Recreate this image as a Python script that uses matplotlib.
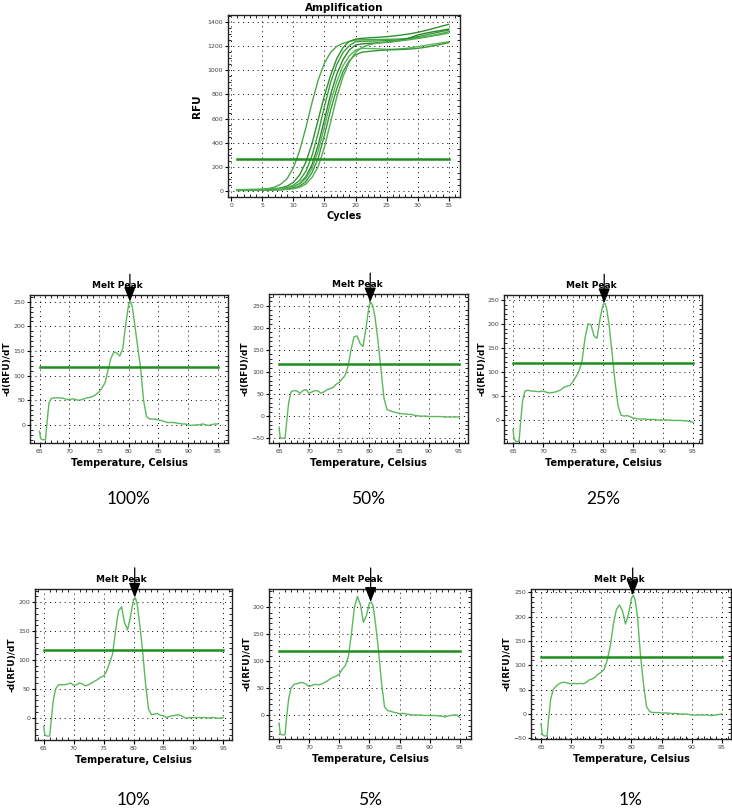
import matplotlib
matplotlib.use("Agg")
import matplotlib.pyplot as plt
from matplotlib.ticker import MultipleLocator

# ---- amplification data (RFU per cycle) ----
cycles = list(range(1, 36))
amp_curves = [
    [5, 6, 7, 9, 12, 18, 30, 55, 100, 190, 330, 520, 730, 920, 1060, 1150, 1200, 1225, 1240, 1252,
     1254, 1255, 1256, 1257, 1258, 1259, 1261, 1264, 1267, 1271, 1278, 1287, 1297, 1309, 1321],
    [8, 8, 9, 10, 11, 13, 17, 24, 38, 70, 130, 235, 390, 590, 790, 960, 1100, 1190, 1240, 1260,
     1266, 1270, 1273, 1276, 1280, 1285, 1291, 1298, 1306, 1316, 1328, 1341, 1355, 1369, 1382],
    [3, 4, 4, 5, 6, 8, 11, 16, 26, 45, 85, 160, 290, 480, 700, 900, 1050, 1150, 1205, 1238,
     1241, 1243, 1244, 1245, 1247, 1250, 1254, 1260, 1269, 1280, 1291, 1302, 1313, 1324, 1335],
    [6, 6, 7, 7, 8, 9, 11, 14, 20, 32, 60, 115, 215, 380, 590, 800, 970, 1090, 1170, 1210,
     1220, 1224, 1227, 1230, 1233, 1238, 1246, 1258, 1275, 1294, 1306, 1316, 1325, 1334, 1343],
    [10, 10, 11, 11, 12, 13, 15, 18, 23, 33, 55, 100, 185, 330, 530, 740, 910, 1040, 1120, 1170,
     1183, 1182, 1180, 1178, 1175, 1176, 1178, 1182, 1189, 1197, 1205, 1214, 1222, 1230, 1238],
    [2, 2, 3, 3, 4, 5, 6, 8, 12, 20, 38, 75, 150, 270, 460, 670, 850, 990, 1080, 1130,
     1150, 1157, 1162, 1166, 1169, 1171, 1173, 1175, 1178, 1183, 1190, 1199, 1209, 1219, 1230],
    [4, 4, 5, 5, 6, 6, 7, 9, 12, 17, 28, 55, 110, 200, 360, 570, 780, 950, 1070, 1150,
     1190, 1210, 1222, 1230, 1235, 1240, 1245, 1250, 1257, 1265, 1273, 1282, 1291, 1300, 1310],
]
amp_threshold = 263

# ---- melt curve data ----
temps = [65, 65.2, 65.5, 66, 66.3, 66.6,
         67, 67.5, 68, 68.5, 69, 69.5, 70, 70.5, 71, 71.5, 72, 72.5, 73, 73.5, 74, 74.5,
         75, 75.5, 76, 76.5, 77, 77.5, 78, 78.5, 79, 79.5, 80,
         80.3, 80.6,
         81, 81.5, 82, 82.5, 83, 83.5, 84, 84.5, 85, 85.5, 86, 86.5, 87, 87.5, 88, 88.5,
         89, 89.5, 90, 90.5, 91, 91.5, 92, 92.5, 93, 93.5, 94, 94.5, 95]

melt_100 = [-13, -28, -30, -30, 10, 45,
            54, 55, 55, 55, 54, 52, 51, 53, 52, 50, 51, 53, 55, 56, 58, 62, 67, 75, 85, 110,
            135, 148, 146, 140, 155, 205, 245,
            250, 240,
            205, 160, 115, 50, 17, 12, 12, 12, 10, 9, 7, 5, 5, 5, 4, 3, 2, 2, 0, -1, 0, 0, 1,
            2, 0, -1, 1, 2, 2]
melt_50 = [-25, -50, -50, -50, -10, 30,
           55, 58, 57, 52, 58, 60, 52, 55, 58, 57, 52, 55, 60, 62, 65, 72, 76, 84, 92, 113,
           150, 180, 182, 165, 158, 200, 250,
           258, 252,
           225, 170, 105, 40, 15, 12, 10, 8, 7, 5, 5, 4, 4, 2, 1, 0, 0, 0, -1, -1, -1, -1, -1,
           -2, -2, -2, -2, -2, -2]
melt_25 = [-20, -40, -45, -45, 0, 40,
           60, 62, 60, 60, 59, 59, 60, 58, 56, 57, 58, 60, 63, 68, 70, 72, 80, 90, 102, 122,
           170, 200, 198, 175, 170, 210, 240,
           243, 232,
           200, 140, 80, 30, 10, 8, 9, 7, 4, 3, 2, 2, 2, 1, 1, 1, 0, 0, 0, 0, 0, -1, -1,
           -1, -1, -2, -2, -3, -5]
melt_10 = [-15, -30, -32, -32, 0, 30,
           50, 57, 57, 57, 58, 60, 56, 57, 60, 58, 55, 57, 60, 63, 66, 70, 72, 80, 95, 110,
           150, 185, 192, 165, 152, 175, 205,
           208, 198,
           165, 118, 60, 15, 5, 6, 7, 4, 3, 0, 2, 3, 4, 5, 3, 0, -1, 0, 0, 0, 0, 0, 0,
           -1, 0, 0, -1, -1, 0]
melt_5 = [-15, -35, -37, -37, 0, 30,
          50, 57, 58, 60, 60, 57, 53, 55, 57, 56, 57, 60, 63, 67, 70, 72, 76, 85, 92, 108,
          150, 200, 220, 205, 172, 185, 208,
          210, 203,
          170, 120, 60, 15, 8, 7, 5, 4, 2, 3, 2, 1, 0, 0, 0, 0, -1, -1, -1, -1, -1, -2, -2,
          -4, -2, -1, 0, 0, -5]
melt_1 = [-20, -42, -45, -45, -5, 30,
          50, 57, 62, 65, 65, 63, 62, 63, 62, 63, 62, 65, 70, 72, 76, 82, 86, 92, 112, 140,
          185, 215, 224, 212, 185, 205, 238,
          244, 235,
          200, 120, 60, 15, 5, 3, 3, 3, 2, 2, 2, 1, 1, 1, 0, 0, 0, -1, -2, -2, -2, -2, -2,
          -2, -3, -3, -2, -1, 0]

melt_labels = ["100%", "50%", "25%", "10%", "5%", "1%"]
melt_peaks = [250, 258, 243, 208, 210, 244]
melt_threshold = 118
peak_temp = 80.2

W, H = 732, 808
fig = plt.figure(figsize=(W / 100, H / 100), dpi=100)
fig.set_facecolor("white")

curve_color = "#5cb85c"
thresh_color = "#1f8f1f"
amp_colors = ["#4aa84a", "#2f8f2f", "#3c9c3c", "#2a862a", "#5bb55b", "#3a963a", "#4fae4f"]


def px_axes(left, top, right, bottom):
    # axes from pixel box
    return fig.add_axes([left / W, 1 - bottom / H, (right - left) / W, (bottom - top) / H])


def style_axes(ax, xminor, yminor):
    ax.grid(True, which="major", color="black", linestyle=(0, (1, 4)), linewidth=0.7)
    ax.xaxis.set_minor_locator(MultipleLocator(xminor))
    ax.yaxis.set_minor_locator(MultipleLocator(yminor))
    ax.tick_params(which="major", direction="out", length=3, width=0.8,
                   labelsize=4.5, labelcolor="#444444", pad=1.5)
    ax.tick_params(axis="y", which="major", length=2.5, pad=1)
    ax.tick_params(which="minor", direction="in", length=2, width=0.6,
                   top=True, right=True)
    for s in ax.spines.values():
        s.set_linewidth(1.0)
        s.set_color("#222222")


# ---- amplification plot ----
ax = px_axes(228, 15, 460, 197)
for vals, col in zip(amp_curves, amp_colors):
    ax.plot(cycles, vals, color=col, linewidth=1.0)
ax.plot([1, 35], [amp_threshold, amp_threshold], color=thresh_color, linewidth=1.8)
ax.set_xlim(-0.5, 36.8)
ax.set_ylim(-52, 1460)
ax.set_xticks(range(0, 36, 5))
ax.set_yticks(range(0, 1401, 200))
style_axes(ax, 1, 50)
ax.set_title("Amplification", fontsize=7.5, fontweight="bold", pad=3)
ax.set_xlabel("Cycles", fontsize=7, fontweight="bold", labelpad=2)
ax.set_ylabel("RFU", fontsize=7.5, fontweight="bold", labelpad=4)

# ---- melt peak plots ----
melt_data = [melt_100, melt_50, melt_25, melt_10, melt_5, melt_1]
boxes = [(30, 295, 228, 443), (269, 294, 468, 443), (504, 295, 702, 443),
         (35, 589, 232, 740), (269, 589, 471, 739), (531, 589, 731, 739)]
xlims = [(63.4, 96.7), (63.33, 96.5), (63.5, 96.5), (63.55, 96.45), (63.34, 96.84), (63.34, 96.5)]
ylims = [(-36.6, 263.7), (-61, 277), (-48, 260), (-38.9, 223), (-44.7, 234), (-51.4, 256.8)]
yticks = [range(0, 251, 50), range(-50, 251, 50), range(0, 251, 50),
          range(0, 201, 50), range(0, 201, 50), range(-50, 251, 50)]
label_y = [499, 499, 499, 800, 800, 800]

for i, vals in enumerate(melt_data):
    ax = px_axes(*boxes[i])
    ax.plot(temps, vals, color=curve_color, linewidth=1.0)
    ax.plot([65, 95], [melt_threshold, melt_threshold], color=thresh_color, linewidth=1.8)
    ax.set_xlim(*xlims[i])
    ax.set_ylim(*ylims[i])
    ax.set_xticks(range(65, 96, 5))
    ax.set_yticks(list(yticks[i]))
    style_axes(ax, 1, 10)
    ax.set_xlabel("Temperature, Celsius", fontsize=7, fontweight="bold", labelpad=3)
    ax.set_ylabel("-d(RFU)/dT", fontsize=6.5, fontweight="bold", labelpad=1)

    # arrow pointing down to the melt peak
    ax.annotate("", xy=(peak_temp, melt_peaks[i]), xycoords="data",
                xytext=(peak_temp, 1.14), textcoords=("data", "axes fraction"),
                arrowprops=dict(arrowstyle="-|>,head_width=0.35,head_length=0.9",
                                color="black", linewidth=0.9, shrinkA=0, shrinkB=0),
                annotation_clip=False)
    ax.annotate("Melt Peak", xy=(peak_temp, 1.0), xycoords=("data", "axes fraction"),
                xytext=(-13, 10), textcoords="offset pixels",
                ha="center", va="center", fontsize=6.5, fontweight="bold")

    bx = boxes[i]
    fig.text((bx[0] + bx[2]) / 2 / W, 1 - label_y[i] / H, melt_labels[i],
             ha="center", va="center", fontsize=12.5, family="Lato")

fig.savefig("out.png", dpi=100)
